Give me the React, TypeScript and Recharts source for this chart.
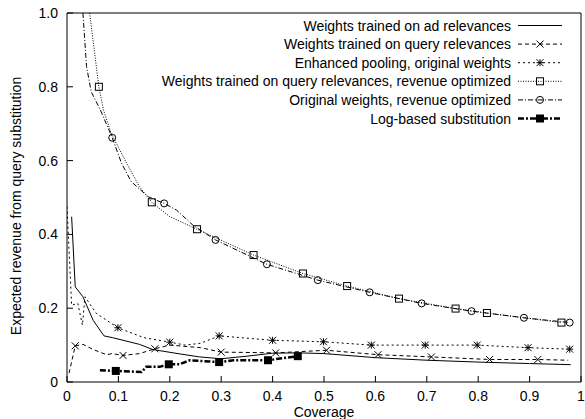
import React from "react";
import { ComposedChart, Line, Scatter, XAxis, YAxis, Legend } from "recharts";

const xTicks = [0, 0.1, 0.2, 0.3, 0.4, 0.5, 0.6, 0.7, 0.8, 0.9, 1];
const xTickLabels = ["0", "0.1", "0.2", "0.3", "0.4", "0.5", "0.6", "0.7", "0.8", "0.9", "1"];
const yTicks = [0, 0.2, 0.4, 0.6, 0.8, 1];
const yTickLabels = ["0", "0.2", "0.4", "0.6", "0.8", "1.0"];

const xTitle = "Coverage";
const yTitle = "Expected revenue from query substitution";

const seriesNames = [
    "Weights trained on ad relevances",
    "Weights trained on query relevances",
    "Enhanced pooling, original weights",
    "Weights trained on query relevances, revenue optimized",
    "Original weights, revenue optimized",
    "Log-based substitution",
];

// weights trained on ad relevances
const adX = [0.009, 0.016, 0.031, 0.051, 0.072, 0.089, 0.141, 0.167, 0.22, 0.258, 0.3, 0.35, 0.4, 0.45, 0.5, 0.6, 0.7, 0.8, 0.9, 0.98];
const adY = [0.448, 0.258, 0.231, 0.167, 0.125, 0.12, 0.102, 0.088, 0.076, 0.068, 0.063, 0.07, 0.078, 0.079, 0.077, 0.066, 0.059, 0.054, 0.05, 0.047];

// weights trained on query relevances
const queryX = [0.004, 0.016, 0.031, 0.051, 0.077, 0.088, 0.109, 0.141, 0.171, 0.2, 0.26, 0.3, 0.406, 0.505, 0.605, 0.709, 0.822, 0.916, 0.975];
const queryY = [0.024, 0.098, 0.102, 0.088, 0.074, 0.077, 0.072, 0.077, 0.09, 0.1, 0.093, 0.081, 0.079, 0.086, 0.074, 0.068, 0.061, 0.061, 0.059];
const queryMarkX = [0.016, 0.109, 0.171, 0.3, 0.406, 0.505, 0.605, 0.709, 0.822, 0.916];
const queryMarkY = [0.098, 0.072, 0.09, 0.081, 0.079, 0.086, 0.074, 0.068, 0.061, 0.061];

// enhanced pooling
const poolX = [0.0, 0.009, 0.021, 0.03, 0.035, 0.057, 0.099, 0.15, 0.2, 0.23, 0.26, 0.296, 0.4, 0.499, 0.592, 0.697, 0.798, 0.897, 0.978];
const poolY = [0.475, 0.208, 0.213, 0.154, 0.231, 0.186, 0.147, 0.12, 0.108, 0.1, 0.105, 0.125, 0.113, 0.109, 0.1, 0.1, 0.1, 0.093, 0.089];
const poolMarkX = [0.099, 0.2, 0.296, 0.4, 0.499, 0.592, 0.697, 0.798, 0.897, 0.978];
const poolMarkY = [0.147, 0.108, 0.125, 0.113, 0.109, 0.1, 0.1, 0.1, 0.093, 0.089];

// query relevances, revenue optimized
const qrevX = [0.044, 0.062, 0.071, 0.086, 0.116, 0.141, 0.165, 0.2, 0.253, 0.363, 0.459, 0.545, 0.646, 0.756, 0.817, 0.962];
const qrevY = [1.0, 0.8, 0.737, 0.674, 0.593, 0.529, 0.487, 0.448, 0.414, 0.344, 0.294, 0.26, 0.226, 0.199, 0.187, 0.161];
const qrevMarkX = [0.062, 0.165, 0.253, 0.363, 0.459, 0.545, 0.646, 0.756, 0.817, 0.962];
const qrevMarkY = [0.8, 0.487, 0.414, 0.344, 0.294, 0.26, 0.226, 0.199, 0.187, 0.161];

// original weights, revenue optimized
const origX = [0.031, 0.038, 0.047, 0.065, 0.088, 0.106, 0.125, 0.158, 0.189, 0.213, 0.245, 0.289, 0.389, 0.488, 0.589, 0.69, 0.787, 0.889, 0.978];
const origY = [1.0, 0.855, 0.787, 0.737, 0.662, 0.593, 0.543, 0.502, 0.484, 0.466, 0.425, 0.385, 0.319, 0.276, 0.243, 0.213, 0.192, 0.174, 0.161];
const origMarkX = [0.088, 0.189, 0.289, 0.389, 0.488, 0.589, 0.69, 0.787, 0.889, 0.978];
const origMarkY = [0.662, 0.484, 0.385, 0.319, 0.276, 0.243, 0.213, 0.192, 0.174, 0.161];

// log-based substitution
const logX = [0.064, 0.095, 0.145, 0.154, 0.18, 0.198, 0.219, 0.239, 0.296, 0.324, 0.391, 0.449];
const logY = [0.032, 0.03, 0.027, 0.041, 0.041, 0.048, 0.048, 0.059, 0.054, 0.059, 0.059, 0.07];
const logMarkX = [0.095, 0.198, 0.296, 0.391, 0.449];
const logMarkY = [0.03, 0.048, 0.054, 0.059, 0.07];

const toPoints = (xs: number[], ys: number[]) => xs.map((x, i) => ({ x, y: ys[i] }));

const FONT = "'Liberation Sans', Arial, Helvetica, sans-serif";
const INK = "#000";

type MarkerKind = "none" | "cross" | "star" | "square" | "circle" | "filled";

const styles: { dash?: string; width: number; marker: MarkerKind }[] = [
    { width: 1, marker: "none" },
    { dash: "4 3", width: 1, marker: "cross" },
    { dash: "2 3", width: 1, marker: "star" },
    { dash: "1 1.5", width: 1, marker: "square" },
    { dash: "5 2 1 2", width: 1, marker: "circle" },
    { dash: "6 2 2 2", width: 2.5, marker: "filled" },
];

const lines = [
    toPoints(adX, adY),
    toPoints(queryX, queryY),
    toPoints(poolX, poolY),
    toPoints(qrevX, qrevY),
    toPoints(origX, origY),
    toPoints(logX, logY),
];

const marks = [
    [],
    toPoints(queryMarkX, queryMarkY),
    toPoints(poolMarkX, poolMarkY),
    toPoints(qrevMarkX, qrevMarkY),
    toPoints(origMarkX, origMarkY),
    toPoints(logMarkX, logMarkY),
];

const drawMarker = (kind: MarkerKind, cx: number, cy: number) => {
    const s = 3.5;
    switch (kind) {
        case "cross":
            return (
                <g stroke={INK} strokeWidth={1}>
                    <line x1={cx - s} y1={cy - s} x2={cx + s} y2={cy + s} />
                    <line x1={cx - s} y1={cy + s} x2={cx + s} y2={cy - s} />
                </g>
            );
        case "star":
            return (
                <g stroke={INK} strokeWidth={1}>
                    <line x1={cx - s} y1={cy - s} x2={cx + s} y2={cy + s} />
                    <line x1={cx - s} y1={cy + s} x2={cx + s} y2={cy - s} />
                    <line x1={cx - s} y1={cy} x2={cx + s} y2={cy} />
                    <line x1={cx} y1={cy - s} x2={cx} y2={cy + s} />
                </g>
            );
        case "square":
            return <rect x={cx - s} y={cy - s} width={2 * s} height={2 * s} fill="none" stroke={INK} strokeWidth={1} />;
        case "circle":
            return <circle cx={cx} cy={cy} r={s} fill="none" stroke={INK} strokeWidth={1} />;
        case "filled":
            return <rect x={cx - 4} y={cy - 4} width={8} height={8} fill={INK} />;
        default:
            return <g />;
    }
};

const labelFor = (ticks: number[], labels: string[], v: number) => {
    const i = ticks.findIndex((t) => Math.abs(t - v) < 1e-9);
    return i >= 0 ? labels[i] : String(v);
};

const BottomTick = (props: any) => {
    const { x, y, payload } = props;
    return (
        <g>
            <line x1={x} x2={x} y1={y} y2={y - 6} stroke={INK} />
            <text x={x} y={y + 19} textAnchor="middle" fontSize={14} fontFamily={FONT} fill={INK}>
                {labelFor(xTicks, xTickLabels, payload.value)}
            </text>
        </g>
    );
};

const TopTick = (props: any) => {
    const { x, y } = props;
    return <line x1={x} x2={x} y1={y} y2={y + 6} stroke={INK} />;
};

const LeftTick = (props: any) => {
    const { x, y, payload } = props;
    return (
        <g>
            <line x1={x} x2={x + 6} y1={y} y2={y} stroke={INK} />
            <text x={x - 9} y={y + 5} textAnchor="end" fontSize={14} fontFamily={FONT} fill={INK}>
                {labelFor(yTicks, yTickLabels, payload.value)}
            </text>
        </g>
    );
};

const RightTick = (props: any) => {
    const { x, y } = props;
    return <line x1={x} x2={x - 6} y1={y} y2={y} stroke={INK} />;
};

// axis titles ignore the props Recharts passes in and sit at fixed places
const XTitle = () => (
    <text x={324} y={417} textAnchor="middle" fontSize={14} fontFamily={FONT} fill={INK}>
        {xTitle}
    </text>
);

const YTitle = () => (
    <text x={21} y={206} transform="rotate(-90 21 206)" textAnchor="middle" fontSize={14} fontFamily={FONT} fill={INK}>
        {yTitle}
    </text>
);

const LegendBox = () => (
    <svg width={585} height={140} style={{ display: "block" }}>
        {seriesNames.map((name, i) => {
            const y = 25.5 + i * 18.6;
            const st = styles[i];
            return (
                <g key={name}>
                    <text x={511} y={y + 5} textAnchor="end" fontSize={14} fontFamily={FONT} fill={INK}>
                        {name}
                    </text>
                    <line x1={518} x2={562} y1={y} y2={y} stroke={INK} strokeWidth={st.width} strokeDasharray={st.dash} />
                    {drawMarker(st.marker, 540, y)}
                </g>
            );
        })}
    </svg>
);

const App: React.FC = () => {
    return (
        <div style={{ position: "absolute", left: 0, top: 0, width: 585, height: 419, background: "#fff" }}>
            <ComposedChart width={585} height={419} margin={{ top: 12, right: 3, bottom: 36, left: 66 }}>
                <XAxis
                    type="number"
                    dataKey="x"
                    domain={[0, 1]}
                    ticks={xTicks}
                    allowDataOverflow
                    height={1}
                    tickSize={0}
                    tickMargin={0}
                    tick={<BottomTick />}
                    axisLine={{ stroke: INK }}
                    interval={0}
                    label={<XTitle />}
                />
                <XAxis
                    xAxisId="top"
                    orientation="top"
                    type="number"
                    domain={[0, 1]}
                    ticks={xTicks}
                    height={1}
                    tickSize={0}
                    tickMargin={0}
                    tick={<TopTick />}
                    axisLine={{ stroke: INK }}
                    interval={0}
                />
                <YAxis
                    type="number"
                    dataKey="y"
                    domain={[0, 1]}
                    ticks={yTicks}
                    allowDataOverflow
                    width={1}
                    tickSize={0}
                    tickMargin={0}
                    tick={<LeftTick />}
                    axisLine={{ stroke: INK }}
                    interval={0}
                    label={<YTitle />}
                />
                <YAxis
                    yAxisId="right"
                    orientation="right"
                    type="number"
                    domain={[0, 1]}
                    ticks={yTicks}
                    width={1}
                    tickSize={0}
                    tickMargin={0}
                    tick={<RightTick />}
                    axisLine={{ stroke: INK }}
                    interval={0}
                />
                <Legend
                    layout="vertical"
                    align="center"
                    verticalAlign="middle"
                    content={<LegendBox />}
                    wrapperStyle={{ top: 0, left: 0, width: 585, height: 140 }}
                />

                {lines.map((pts, i) => (
                    <Line
                        key={`line-${i}`}
                        data={pts}
                        dataKey="y"
                        type="linear"
                        stroke={INK}
                        strokeWidth={styles[i].width}
                        strokeDasharray={styles[i].dash}
                        dot={false}
                        activeDot={false}
                        isAnimationActive={false}
                        name={seriesNames[i]}
                    />
                ))}
                {marks.map((pts, i) =>
                    pts.length ? (
                        <Scatter
                            key={`mark-${i}`}
                            data={pts}
                            dataKey="y"
                            isAnimationActive={false}
                            shape={(p: any) => drawMarker(styles[i].marker, p.cx, p.cy)}
                        />
                    ) : null
                )}
            </ComposedChart>
        </div>
    );
};

export default App;
